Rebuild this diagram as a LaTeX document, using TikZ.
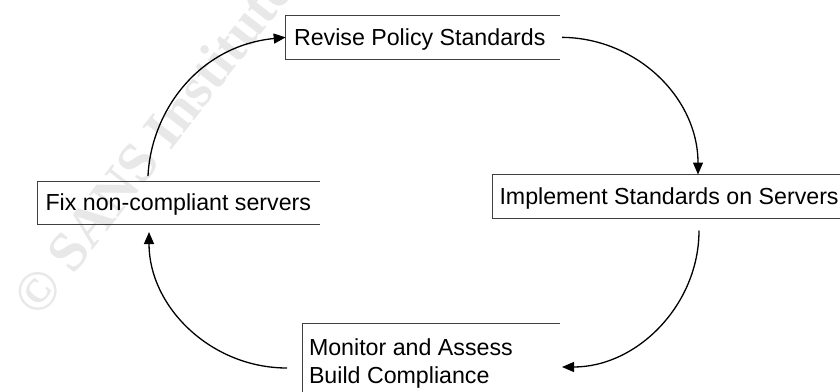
\documentclass[tikz,border=0pt]{standalone}
\usepackage{fontspec}
\setmainfont{Liberation Sans}
\newfontfamily\wmfont{Liberation Serif}
\usetikzlibrary{arrows.meta}
\definecolor{wmgray}{HTML}{E8E8E8}
\definecolor{boxgray}{HTML}{404040}
\tikzset{
  boxnode/.style={inner sep=0pt, outer sep=0pt, minimum width=#1, draw=none},
  boxline/.style={draw=boxgray, line width=1pt},
  txt/.style={inner sep=0pt, outer sep=0pt, font=\fontsize{23.2}{28}\selectfont},
  arr/.style={draw=black, line width=1.3pt, -{Triangle[length=12pt,width=10pt]}},
  wm/.style={inner sep=0pt, outer sep=0pt, text=wmgray, font=\wmfont\bfseries\fontsize{56}{60}\selectfont}
}
\begin{document}
\begin{tikzpicture}[x=1pt,y=-1pt]
\clip (0,0) rectangle (840,391);
\fill[white] (0,0) rectangle (840,391);
% watermark
\node[wm, rotate=52, anchor=base west] (wm) at (39,319) {© SANS Institute};
% boxes
\node[boxnode=274.3pt, minimum height=43.3pt, anchor=north west] (revise) at (285.7,15.7) {};
\node[boxnode=283pt, minimum height=43pt, anchor=north west] (fix) at (37,181) {};
\node[boxnode=348pt, minimum height=44pt, anchor=north west] (implement) at (492,174.5) {};
\node[boxnode=258pt, minimum height=75pt, anchor=north west] (monitor) at (302,323) {};
\foreach \b in {revise,fix,implement,monitor}{
  \draw[boxline] (\b.north east) -- (\b.north west) -- (\b.south west) -- (\b.south east);
}
% texts
\node[txt, anchor=base west] (reviseText) at (294,45) {Revise Policy Standards};
\node[txt, anchor=base west] (fixText) at (45.5,210) {Fix non-compliant servers};
\node[txt, anchor=base west] (implementText) at (499.5,204.5) {Implement Standards on Servers};
\node[txt, anchor=base west] (monitorText1) at (309,355) {Monitor and Assess};
\node[txt, anchor=base west] (monitorText2) at (309,383) {Build Compliance};
% connectors
\draw[arr] ([xshift=111pt,yshift=5pt]fix.north west) .. controls (151,112) and (198,46) .. (revise.west);
\draw[arr] ([xshift=2pt]revise.east) .. controls (637,38) and (698,98) .. ([xshift=206pt]implement.north west);
\draw[arr] ([xshift=207pt,yshift=-12pt]implement.south west) .. controls (699,305) and (637,367) .. ([xshift=2pt,yshift=-44pt]monitor.north east);
\draw[arr] ([xshift=-15pt,yshift=-45pt]monitor.north west) .. controls (211,368) and (149,307) .. ([xshift=112pt,yshift=-8pt]fix.south west);
\end{tikzpicture}
\end{document}
